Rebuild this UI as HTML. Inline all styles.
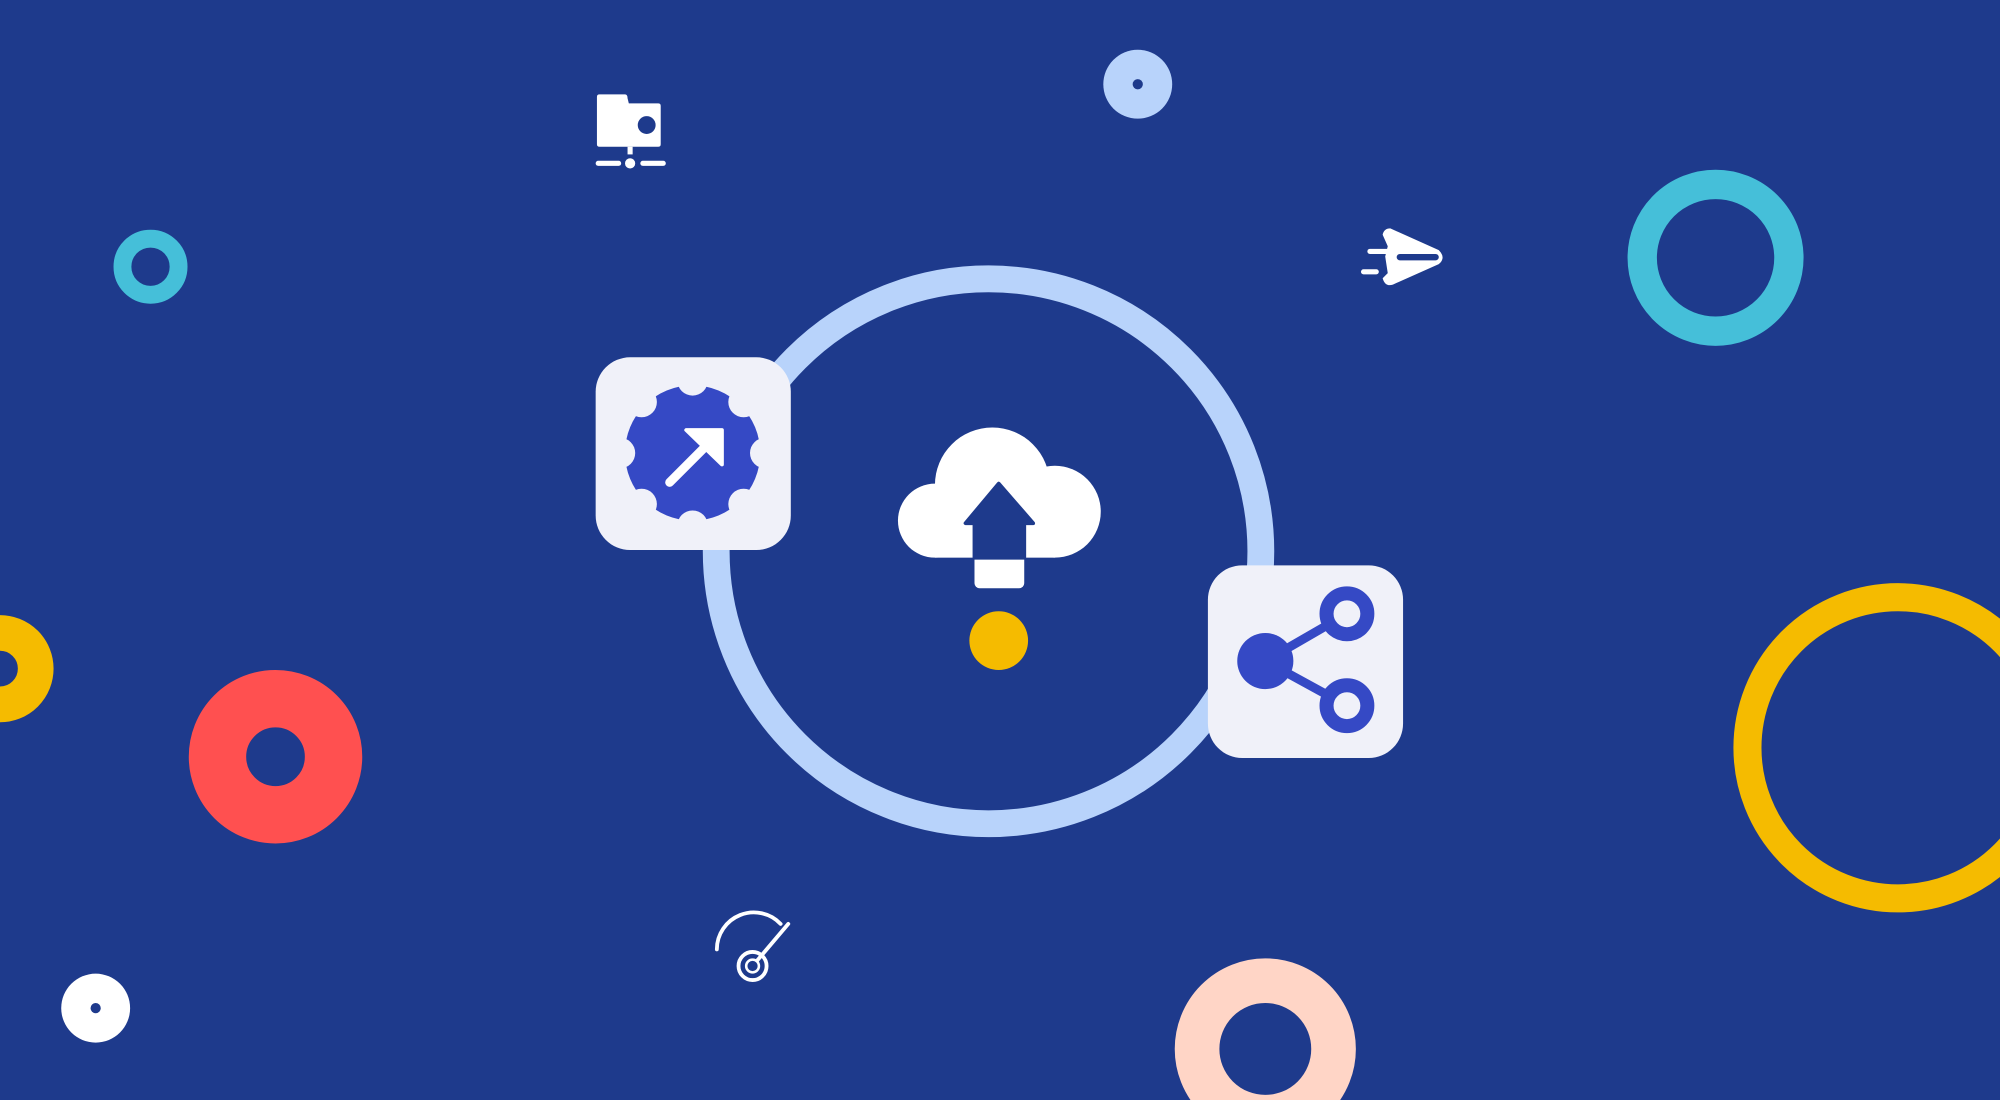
<!DOCTYPE html>
<html><head><meta charset="utf-8"><style>
html,body{margin:0;padding:0;background:#1e3a8c;}
svg{display:block}
</style></head><body>
<svg width="2000" height="1100" viewBox="0 0 1568 862" preserveAspectRatio="none" xmlns="http://www.w3.org/2000/svg">
<rect width="1568" height="862" fill="#1e3a8c"/>
<!-- decorative circles -->
<circle cx="892" cy="66" r="27" fill="#b8d3fb"/><circle cx="892" cy="66" r="4" fill="#1e3a8c"/>
<circle cx="1345" cy="202" r="57.5" fill="none" stroke="#45bfd9" stroke-width="23"/>
<circle cx="118" cy="209" r="22" fill="none" stroke="#45bfd9" stroke-width="14"/>
<circle cx="1488" cy="586" r="118" fill="none" stroke="#f5bb00" stroke-width="22"/>
<circle cx="0" cy="524" r="28" fill="none" stroke="#f5bb00" stroke-width="28"/>
<circle cx="216" cy="593" r="45.5" fill="none" stroke="#ff5050" stroke-width="45"/>
<circle cx="992" cy="822" r="53.5" fill="none" stroke="#ffd5c6" stroke-width="35"/>
<circle cx="75" cy="790" r="27" fill="#fff"/><circle cx="75" cy="790" r="4" fill="#1e3a8c"/>
<!-- main ring -->
<circle cx="775" cy="432" r="213.5" fill="none" stroke="#b8d3fb" stroke-width="21"/>
<!-- left card -->
<rect x="467" y="280" width="153" height="151" rx="27" fill="#f0f1f9"/>
<circle cx="543" cy="355" r="53" fill="#3549c5"/>
<g fill="#f0f1f9">
<circle cx="543" cy="298" r="12"/><circle cx="543" cy="412" r="12"/>
<circle cx="486" cy="355" r="12"/><circle cx="600" cy="355" r="12"/>
<circle cx="503" cy="315" r="12"/><circle cx="583" cy="315" r="12"/>
<circle cx="503" cy="395" r="12"/><circle cx="583" cy="395" r="12"/>
</g>
<path d="M525 378 L555 348" stroke="#fff" stroke-width="7" stroke-linecap="round"/>
<path d="M538 337 L566 337 L566 364 Z" fill="#fff" stroke="#fff" stroke-width="3" stroke-linejoin="round"/>
<!-- right card -->
<rect x="947" y="443" width="153" height="151" rx="27" fill="#f0f1f9"/>
<g stroke="#3549c5" stroke-width="7" fill="none">
<line x1="992" y1="518" x2="1056" y2="481"/><line x1="992" y1="518" x2="1056" y2="553"/>
</g>
<circle cx="1056" cy="481" r="16" fill="#f0f1f9" stroke="#3549c5" stroke-width="11"/>
<circle cx="1056" cy="553" r="16" fill="#f0f1f9" stroke="#3549c5" stroke-width="11"/>
<circle cx="992" cy="518" r="22" fill="#3549c5"/>
<!-- cloud -->
<g fill="#fff">
<circle cx="778" cy="380" r="45"/><circle cx="733" cy="408" r="29"/><circle cx="827" cy="401" r="36"/>
<rect x="733" y="385" width="94" height="52"/>
<rect x="764" y="430" width="39" height="31" rx="4"/>
</g>
<path d="M783 379 L757 410 L764 410 L764 437 L803 437 L803 410 L810 410 Z" fill="#1e3a8c" stroke="#1e3a8c" stroke-width="3" stroke-linejoin="round"/>
<circle cx="783" cy="502" r="23" fill="#f5bb00"/>
<!-- server icon -->
<g fill="#fff">
<path d="M468 76 Q468 74 470 74 L490 74 Q492 74 492 77 L493 81 L516 81 Q518 81 518 83 L518 113 Q518 115 516 115 L470 115 Q468 115 468 113 Z"/>
<rect x="492" y="115" width="4" height="6"/>
<circle cx="494" cy="128" r="4"/>
<rect x="467" y="126" width="20" height="4" rx="2"/><rect x="502" y="126" width="20" height="4" rx="2"/>
</g>
<circle cx="507" cy="98" r="7" fill="#1e3a8c"/>
<!-- send icon -->
<g fill="#fff">
<path d="M1090 179 Q1085 179 1084 184 L1088 193 L1086 201 L1088 214 L1084 218 Q1086 225 1092 223 L1128 207 Q1134 202 1128 196 Z"/>
<rect x="1072" y="195" width="20" height="4" rx="2"/><rect x="1067" y="211" width="14" height="4" rx="2"/>
</g>
<rect x="1095" y="199" width="33" height="5" rx="2.5" fill="#1e3a8c"/>
<!-- gauge icon -->
<g fill="none" stroke="#fff" stroke-width="3" stroke-linecap="round">
<path d="M562 744 A29 29 0 0 1 612 724"/>
<circle cx="590" cy="757" r="11"/>
<path d="M590 757 L618 724"/>
</g>
<circle cx="590" cy="757" r="5" fill="#1e3a8c" stroke="#fff" stroke-width="2"/>
</svg>
</body></html>
